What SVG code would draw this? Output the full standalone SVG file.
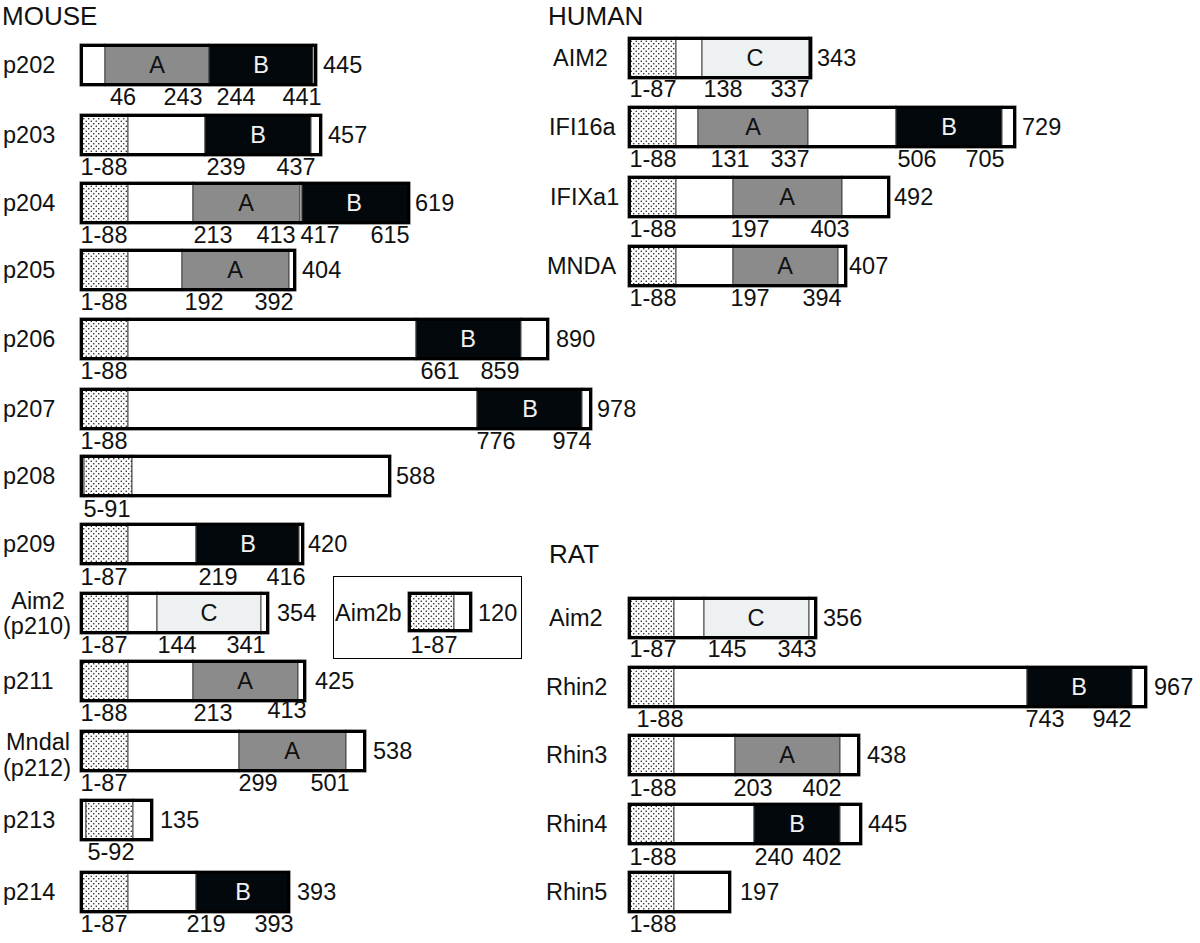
<svg xmlns="http://www.w3.org/2000/svg" width="1200" height="943" viewBox="0 0 1200 943">
<style>
.t{font-family:"Liberation Sans",Arial,sans-serif;font-size:23.5px;fill:#111}
.h{font-size:26px}
.m{text-anchor:middle}
.w{fill:#f2f2f2}
.s{stroke:#444;stroke-width:1}
.wh{fill:#fff}
.ga{fill:#8b8b8b}
.bk{fill:#03080c}
.cc{fill:#edf1f1}
.dt{fill:url(#dots)}
.fr{fill:none;stroke:#000;stroke-width:3}
.box{fill:none;stroke:#000;stroke-width:1}
</style>
<defs>
<pattern id="dots" width="5" height="5" patternUnits="userSpaceOnUse">
<rect width="5" height="5" fill="#fdfdfd"/>
<circle cx="1.25" cy="1.25" r="0.75" fill="#111"/>
<circle cx="3.75" cy="3.75" r="0.75" fill="#111"/>
</pattern>
</defs>
<rect width="1200" height="943" fill="#fff"/>

<text class="t h" x="2" y="25">MOUSE</text>
<text class="t h" x="548" y="25">HUMAN</text>
<text class="t h" x="549" y="563">RAT</text>

<!-- MOUSE -->
<g id="p202">
<text class="t" x="3" y="73">p202</text>
<g class="s">
<rect class="wh" x="80" y="44" width="25" height="42"/>
<rect class="ga" x="105" y="44" width="104" height="42"/>
<rect class="bk" x="209" y="44" width="104" height="42"/>
<rect class="wh" x="313" y="44" width="4" height="42"/>
</g>
<rect class="fr" x="81.5" y="45.5" width="234" height="39"/>
<text class="t m" x="157" y="73">A</text>
<text class="t m w" x="261" y="73">B</text>
<text class="t" x="323" y="73">445</text>
<text class="t m" x="123" y="105">46</text>
<text class="t m" x="183" y="105">243</text>
<text class="t m" x="236" y="105">244</text>
<text class="t m" x="302" y="105">441</text>
</g>

<g id="p203">
<text class="t" x="3" y="143">p203</text>
<g class="s">
<rect class="dt" x="80" y="114" width="48" height="42"/>
<rect class="wh" x="128" y="114" width="77" height="42"/>
<rect class="bk" x="205" y="114" width="106" height="42"/>
<rect class="wh" x="311" y="114" width="11" height="42"/>
</g>
<rect class="fr" x="81.5" y="115.5" width="239" height="39"/>
<text class="t m w" x="258" y="143">B</text>
<text class="t" x="328" y="143">457</text>
<text class="t m" x="104" y="175">1-88</text>
<text class="t m" x="226" y="175">239</text>
<text class="t m" x="296" y="175">437</text>
</g>

<g id="p204">
<text class="t" x="3" y="211">p204</text>
<g class="s">
<rect class="dt" x="80" y="182" width="48" height="42"/>
<rect class="wh" x="128" y="182" width="65" height="42"/>
<rect class="ga" x="193" y="182" width="107" height="42"/>
<rect class="wh" x="300" y="182" width="2" height="42"/>
<rect class="bk" x="302" y="182" width="108" height="42"/>
</g>
<rect class="fr" x="81.5" y="183.5" width="327" height="39"/>
<text class="t m" x="246" y="211">A</text>
<text class="t m w" x="354" y="211">B</text>
<text class="t" x="415" y="211">619</text>
<text class="t m" x="104" y="243">1-88</text>
<text class="t m" x="213" y="243">213</text>
<text class="t m" x="276" y="243">413</text>
<text class="t m" x="320" y="243">417</text>
<text class="t m" x="390" y="243">615</text>
</g>

<g id="p205">
<text class="t" x="3" y="278">p205</text>
<g class="s">
<rect class="dt" x="80" y="249" width="48" height="42"/>
<rect class="wh" x="128" y="249" width="54" height="42"/>
<rect class="ga" x="182" y="249" width="107" height="42"/>
<rect class="wh" x="289" y="249" width="7" height="42"/>
</g>
<rect class="fr" x="81.5" y="250.5" width="213" height="39"/>
<text class="t m" x="235" y="278">A</text>
<text class="t" x="302" y="278">404</text>
<text class="t m" x="104" y="310">1-88</text>
<text class="t m" x="204" y="310">192</text>
<text class="t m" x="274" y="310">392</text>
</g>

<g id="p206">
<text class="t" x="3" y="347">p206</text>
<g class="s">
<rect class="dt" x="80" y="318" width="48" height="42"/>
<rect class="wh" x="128" y="318" width="288" height="42"/>
<rect class="bk" x="416" y="318" width="105" height="42"/>
<rect class="wh" x="521" y="318" width="28" height="42"/>
</g>
<rect class="fr" x="81.5" y="319.5" width="466" height="39"/>
<text class="t m w" x="468" y="347">B</text>
<text class="t" x="556" y="347">890</text>
<text class="t m" x="104" y="379">1-88</text>
<text class="t m" x="440" y="379">661</text>
<text class="t m" x="500" y="379">859</text>
</g>

<g id="p207">
<text class="t" x="3" y="417">p207</text>
<g class="s">
<rect class="dt" x="80" y="388" width="48" height="42"/>
<rect class="wh" x="128" y="388" width="349" height="42"/>
<rect class="bk" x="477" y="388" width="105" height="42"/>
<rect class="wh" x="582" y="388" width="10" height="42"/>
</g>
<rect class="fr" x="81.5" y="389.5" width="509" height="39"/>
<text class="t m w" x="530" y="417">B</text>
<text class="t" x="597" y="417">978</text>
<text class="t m" x="104" y="449">1-88</text>
<text class="t m" x="496" y="449">776</text>
<text class="t m" x="572" y="449">974</text>
</g>

<g id="p208">
<text class="t" x="3" y="484">p208</text>
<g class="s">
<rect class="wh" x="80" y="455" width="4" height="42"/>
<rect class="dt" x="84" y="455" width="48" height="42"/>
<rect class="wh" x="132" y="455" width="259" height="42"/>
</g>
<rect class="fr" x="81.5" y="456.5" width="308" height="39"/>
<text class="t" x="396" y="484">588</text>
<text class="t m" x="107" y="517">5-91</text>
</g>

<g id="p209">
<text class="t" x="3" y="552">p209</text>
<g class="s">
<rect class="dt" x="80" y="523" width="48" height="42"/>
<rect class="wh" x="128" y="523" width="68" height="42"/>
<rect class="bk" x="196" y="523" width="103" height="42"/>
<rect class="wh" x="299" y="523" width="5" height="42"/>
</g>
<rect class="fr" x="81.5" y="524.5" width="221" height="39"/>
<text class="t m w" x="248" y="552">B</text>
<text class="t" x="308" y="552">420</text>
<text class="t m" x="104" y="585">1-87</text>
<text class="t m" x="218" y="585">219</text>
<text class="t m" x="286" y="585">416</text>
</g>

<g id="p210">
<text class="t m" x="38" y="609">Aim2</text>
<text class="t m" x="37" y="634">(p210)</text>
<g class="s">
<rect class="dt" x="80" y="592" width="48" height="42"/>
<rect class="wh" x="128" y="592" width="29" height="42"/>
<rect class="cc" x="157" y="592" width="104" height="42"/>
<rect class="wh" x="261" y="592" width="8" height="42"/>
</g>
<rect class="fr" x="81.5" y="593.5" width="186" height="39"/>
<text class="t m" x="209" y="621">C</text>
<text class="t" x="277" y="621">354</text>
<text class="t m" x="104" y="653">1-87</text>
<text class="t m" x="177" y="653">144</text>
<text class="t m" x="246" y="653">341</text>
</g>

<g id="aim2b">
<rect class="box" x="333.5" y="576.5" width="188" height="82"/>
<text class="t" x="335" y="621">Aim2b</text>
<g class="s">
<rect class="dt" x="408" y="592" width="46" height="40"/>
<rect class="wh" x="454" y="592" width="18" height="40"/>
</g>
<rect class="fr" x="409.5" y="593.5" width="61" height="37"/>
<text class="t" x="478" y="621">120</text>
<text class="t m" x="434" y="653">1-87</text>
</g>

<g id="p211">
<text class="t" x="3" y="689">p211</text>
<g class="s">
<rect class="dt" x="80" y="660" width="48" height="42"/>
<rect class="wh" x="128" y="660" width="65" height="42"/>
<rect class="ga" x="193" y="660" width="105" height="42"/>
<rect class="wh" x="298" y="660" width="8" height="42"/>
</g>
<rect class="fr" x="81.5" y="661.5" width="223" height="39"/>
<text class="t m" x="245" y="689">A</text>
<text class="t" x="315" y="689">425</text>
<text class="t m" x="104" y="721">1-88</text>
<text class="t m" x="213" y="721">213</text>
<text class="t m" x="287" y="718">413</text>
</g>

<g id="p212">
<text class="t m" x="38" y="750">Mndal</text>
<text class="t m" x="37" y="776">(p212)</text>
<g class="s">
<rect class="dt" x="80" y="730" width="48" height="42"/>
<rect class="wh" x="128" y="730" width="111" height="42"/>
<rect class="ga" x="239" y="730" width="107" height="42"/>
<rect class="wh" x="346" y="730" width="20" height="42"/>
</g>
<rect class="fr" x="81.5" y="731.5" width="283" height="39"/>
<text class="t m" x="292" y="759">A</text>
<text class="t" x="373" y="759">538</text>
<text class="t m" x="104" y="791">1-87</text>
<text class="t m" x="258" y="791">299</text>
<text class="t m" x="330" y="791">501</text>
</g>

<g id="p213">
<text class="t" x="3" y="828">p213</text>
<g class="s">
<rect class="wh" x="80" y="799" width="6" height="42"/>
<rect class="dt" x="86" y="799" width="47" height="42"/>
<rect class="wh" x="133" y="799" width="20" height="42"/>
</g>
<rect class="fr" x="81.5" y="800.5" width="70" height="39"/>
<text class="t" x="160" y="828">135</text>
<text class="t m" x="111" y="860">5-92</text>
</g>

<g id="p214">
<text class="t" x="3" y="900">p214</text>
<g class="s">
<rect class="dt" x="80" y="871" width="48" height="42"/>
<rect class="wh" x="128" y="871" width="68" height="42"/>
<rect class="bk" x="196" y="871" width="94" height="42"/>
</g>
<rect class="fr" x="81.5" y="872.5" width="207" height="39"/>
<text class="t m w" x="243" y="900">B</text>
<text class="t" x="297" y="900">393</text>
<text class="t m" x="104" y="932">1-87</text>
<text class="t m" x="206" y="932">219</text>
<text class="t m" x="274" y="932">393</text>
</g>

<!-- HUMAN -->
<g id="hAIM2">
<text class="t" x="553" y="66">AIM2</text>
<g class="s">
<rect class="dt" x="628" y="37" width="48" height="42"/>
<rect class="wh" x="676" y="37" width="26" height="42"/>
<rect class="cc" x="702" y="37" width="107" height="42"/>
<rect class="wh" x="809" y="37" width="3" height="42"/>
</g>
<rect class="fr" x="629.5" y="38.5" width="181" height="39"/>
<text class="t m" x="755" y="66">C</text>
<text class="t" x="817" y="66">343</text>
<text class="t m" x="653" y="97">1-87</text>
<text class="t m" x="723" y="97">138</text>
<text class="t m" x="790" y="97">337</text>
</g>

<g id="IFI16a">
<text class="t" x="549" y="135">IFI16a</text>
<g class="s">
<rect class="dt" x="628" y="106" width="48" height="42"/>
<rect class="wh" x="676" y="106" width="22" height="42"/>
<rect class="ga" x="698" y="106" width="110" height="42"/>
<rect class="wh" x="808" y="106" width="88" height="42"/>
<rect class="bk" x="896" y="106" width="106" height="42"/>
<rect class="wh" x="1002" y="106" width="14" height="42"/>
</g>
<rect class="fr" x="629.5" y="107.5" width="385" height="39"/>
<text class="t m" x="753" y="135">A</text>
<text class="t m w" x="949" y="135">B</text>
<text class="t" x="1022" y="135">729</text>
<text class="t m" x="653" y="167">1-88</text>
<text class="t m" x="730" y="167">131</text>
<text class="t m" x="790" y="167">337</text>
<text class="t m" x="917" y="167">506</text>
<text class="t m" x="985" y="167">705</text>
</g>

<g id="IFIXa1">
<text class="t" x="550" y="205">IFIXa1</text>
<g class="s">
<rect class="dt" x="628" y="176" width="48" height="42"/>
<rect class="wh" x="676" y="176" width="57" height="42"/>
<rect class="ga" x="733" y="176" width="109" height="42"/>
<rect class="wh" x="842" y="176" width="48" height="42"/>
</g>
<rect class="fr" x="629.5" y="177.5" width="259" height="39"/>
<text class="t m" x="787" y="205">A</text>
<text class="t" x="894" y="205">492</text>
<text class="t m" x="653" y="237">1-88</text>
<text class="t m" x="750" y="237">197</text>
<text class="t m" x="830" y="237">403</text>
</g>

<g id="MNDA">
<text class="t" x="547" y="274">MNDA</text>
<g class="s">
<rect class="dt" x="628" y="245" width="48" height="42"/>
<rect class="wh" x="676" y="245" width="57" height="42"/>
<rect class="ga" x="733" y="245" width="105" height="42"/>
<rect class="wh" x="838" y="245" width="9" height="42"/>
</g>
<rect class="fr" x="629.5" y="246.5" width="216" height="39"/>
<text class="t m" x="785" y="274">A</text>
<text class="t" x="849" y="274">407</text>
<text class="t m" x="653" y="306">1-88</text>
<text class="t m" x="750" y="306">197</text>
<text class="t m" x="822" y="306">394</text>
</g>

<!-- RAT -->
<g id="rAim2">
<text class="t" x="549" y="626">Aim2</text>
<g class="s">
<rect class="dt" x="628" y="597" width="46" height="42"/>
<rect class="wh" x="674" y="597" width="30" height="42"/>
<rect class="cc" x="704" y="597" width="105" height="42"/>
<rect class="wh" x="809" y="597" width="8" height="42"/>
</g>
<rect class="fr" x="629.5" y="598.5" width="186" height="39"/>
<text class="t m" x="756" y="626">C</text>
<text class="t" x="823" y="626">356</text>
<text class="t m" x="653" y="657">1-87</text>
<text class="t m" x="727" y="657">145</text>
<text class="t m" x="797" y="657">343</text>
</g>

<g id="Rhin2">
<text class="t" x="546" y="695">Rhin2</text>
<g class="s">
<rect class="dt" x="628" y="666" width="46" height="42"/>
<rect class="wh" x="674" y="666" width="353" height="42"/>
<rect class="bk" x="1027" y="666" width="105" height="42"/>
<rect class="wh" x="1132" y="666" width="15" height="42"/>
</g>
<rect class="fr" x="629.5" y="667.5" width="516" height="39"/>
<text class="t m w" x="1079" y="695">B</text>
<text class="t" x="1154" y="695">967</text>
<text class="t m" x="660" y="727">1-88</text>
<text class="t m" x="1045" y="727">743</text>
<text class="t m" x="1112" y="727">942</text>
</g>

<g id="Rhin3">
<text class="t" x="546" y="763">Rhin3</text>
<g class="s">
<rect class="dt" x="628" y="734" width="46" height="42"/>
<rect class="wh" x="674" y="734" width="61" height="42"/>
<rect class="ga" x="735" y="734" width="105" height="42"/>
<rect class="wh" x="840" y="734" width="20" height="42"/>
</g>
<rect class="fr" x="629.5" y="735.5" width="229" height="39"/>
<text class="t m" x="787" y="763">A</text>
<text class="t" x="867" y="763">438</text>
<text class="t m" x="653" y="796">1-88</text>
<text class="t m" x="753" y="796">203</text>
<text class="t m" x="822" y="796">402</text>
</g>

<g id="Rhin4">
<text class="t" x="546" y="832">Rhin4</text>
<g class="s">
<rect class="dt" x="628" y="803" width="46" height="42"/>
<rect class="wh" x="674" y="803" width="80" height="42"/>
<rect class="bk" x="754" y="803" width="86" height="42"/>
<rect class="wh" x="840" y="803" width="22" height="42"/>
</g>
<rect class="fr" x="629.5" y="804.5" width="231" height="39"/>
<text class="t m w" x="797" y="832">B</text>
<text class="t" x="868" y="832">445</text>
<text class="t m" x="653" y="865">1-88</text>
<text class="t m" x="774" y="865">240</text>
<text class="t m" x="822" y="865">402</text>
</g>

<g id="Rhin5">
<text class="t" x="546" y="900">Rhin5</text>
<g class="s">
<rect class="dt" x="628" y="871" width="46" height="42"/>
<rect class="wh" x="674" y="871" width="57" height="42"/>
</g>
<rect class="fr" x="629.5" y="872.5" width="100" height="39"/>
<text class="t" x="740" y="900">197</text>
<text class="t m" x="653" y="932">1-88</text>
</g>
</svg>
